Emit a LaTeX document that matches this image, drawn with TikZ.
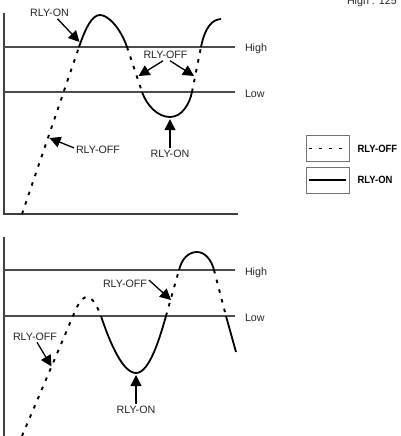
\documentclass[tikz,border=0pt]{standalone}
\usepackage{fontspec}
\setmainfont{Liberation Sans}
\usetikzlibrary{arrows.meta, positioning}

\begin{document}
\begin{tikzpicture}[>={Triangle[length=11pt, width=11pt]}, x=1pt, y=-1pt,
    axis/.style={line width=1.2pt, black!75},
    level/.style={line width=1.2pt, black!70},
    onseg/.style={line width=1.8pt},
    offseg/.style={line width=1.9pt, dash pattern=on 3.5pt off 6.5pt},
    tag/.style={font=\fontsize{10.7}{12}\selectfont, inner sep=0pt,
                outer sep=2pt, text=black!85},
    pointer/.style={->, line width=1.3pt},
    keybox/.style={draw=black!55, line width=0.8pt, minimum width=43pt,
                   minimum height=26pt, inner sep=0pt},
    keytext/.style={font=\fontsize{10.5}{12}\selectfont\bfseries, inner sep=0pt}]
  \useasboundingbox (0,0) rectangle (400,436);

  % Upper chart: axes and levels
  \draw[axis] (4,13) -- (4,214) -- (238,214);
  \draw[level] (4,47) -- (235,47);
  \draw[level] (4,92) -- (235,92);
  \node[tag, anchor=base west] (hiA) at (243,52) {High};
  \node[tag, anchor=base west] (loA) at (243,97) {Low};

  % Upper chart: sensor curve
  \draw[offseg] (22,214) -- (79,47);
  \draw[onseg] (79,47) .. controls (85.5,28) and (92,15) .. (100,15)
               .. controls (108,15) and (120.5,28) .. (127,47);
  \draw[offseg] (127,47) -- (142,92);
  \draw[onseg] (142,92) .. controls (147,106) and (158,117) .. (170,117)
               .. controls (182,117) and (189.5,104) .. (192,92);
  \draw[offseg] (192,92) -- (201,47);
  \draw[onseg] (201,47) .. controls (205,27.4) and (212,19.5) .. (221,19);

  % Upper chart: labels
  \node[tag] (onA) at (49.5,13) {RLY-ON};
  \coordinate (onAtip) at (79.5,42);
  \draw[pointer] (onA.-36) -- (onAtip);

  \node[tag] (offA) at (165.5,55) {RLY-OFF};
  \coordinate (offAl) at (138.5,76);
  \coordinate (offAr) at (194,76);
  \draw[pointer] (offA.-113) -- (offAl);
  \draw[pointer] (offA.-52) -- (offAr);

  \node[tag] (offB) at (98,150) {RLY-OFF};
  \coordinate (offBtip) at (49.5,138);
  \draw[pointer] (offB.175) -- (offBtip);

  \node[tag] (onB) at (170,153.5) {RLY-ON};
  \coordinate (onBtip) at (170,119.2);
  \draw[pointer] (onB.north) -- (onBtip);

  % Lower chart: axis and levels
  \draw[axis] (4,237) -- (4,436);
  \draw[level] (4,270) -- (235,270);
  \draw[level] (4,316) -- (235,316);
  \node[tag, anchor=base west] (hiB) at (243,275) {High};
  \node[tag, anchor=base west] (loB) at (243,321) {Low};

  % Lower chart: sensor curve
  \draw[offseg] (22,436) -- (73,316)
                .. controls (76,308.5) and (81,297) .. (87,297)
                .. controls (93,297) and (98,308.5) .. (101,316);
  \draw[onseg] (101,316) .. controls (107,334) and (121,373) .. (136,373)
               .. controls (150,373) and (160.5,335) .. (166,316);
  \draw[offseg] (166,316) -- (179,270);
  \draw[onseg] (179,270) .. controls (182,258) and (189,252) .. (197,252)
               .. controls (205,252) and (211.5,260) .. (214,270);
  \draw[offseg] (214,270) -- (226,316);
  \draw[onseg] (226,316) -- (236,352);

  % Lower chart: labels
  \node[tag] (offC) at (35,336.5) {RLY-OFF};
  \coordinate (offCtip) at (51.5,366.5);
  \draw[pointer] (offC.-71) -- (offCtip);

  \node[tag] (offD) at (125,283.5) {RLY-OFF};
  \coordinate (offDtip) at (171,300);
  \draw[pointer] (offD.8) -- (offDtip);

  \node[tag] (onC) at (136,410) {RLY-ON};
  \coordinate (onCtip) at (136,375);
  \draw[pointer] (onC.north) -- (onCtip);

  % Key
  \node[keybox] (keyoff) at (327.5,148.5) {};
  \node[keybox] (keyon) at (327.5,180) {};
  \draw[offseg] ([xshift=3pt]keyoff.west) -- ([xshift=-3pt]keyoff.east);
  \draw[onseg] ([xshift=3pt]keyon.west) -- ([xshift=-3pt]keyon.east);
  \node[keytext, right=8pt of keyoff] (offkey) {\scalebox{0.9}[1]{RLY-OFF}};
  \node[keytext, right=8pt of keyon] (onkey) {\scalebox{0.9}[1]{RLY-ON}};

  \node[tag, anchor=base west] (range) at (345,5) {High : 125};
\end{tikzpicture}
\end{document}
